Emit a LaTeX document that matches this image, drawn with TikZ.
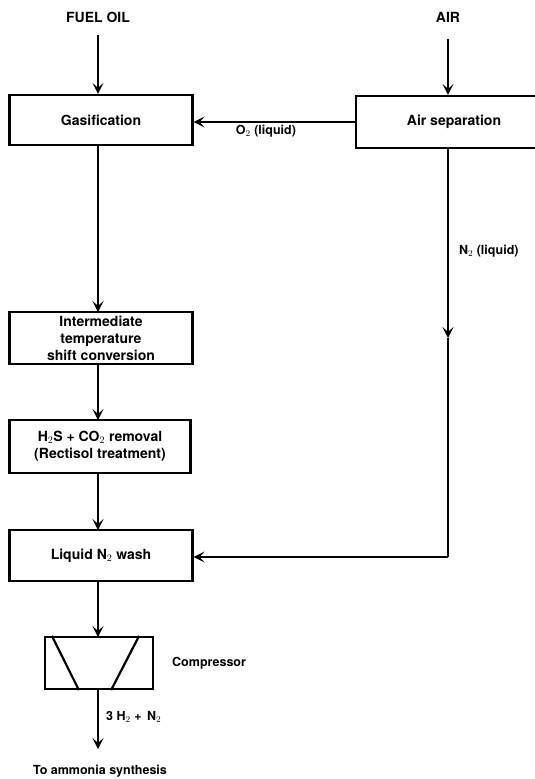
\documentclass[tikz,border=0pt]{standalone}
\usepackage{fontspec}
\setmainfont{TeX Gyre Heros}
\usetikzlibrary{arrows.meta,calc}
\begin{document}
\begin{tikzpicture}[x=1pt,y=-1pt,
  every node/.style={font=\bfseries\fontsize{14}{17}\selectfont, inner sep=0pt},
  unit/.style={draw, line width=2.2pt, rectangle, align=center, anchor=center},
  flow/.style={line width=2.2pt, -{Stealth[length=11pt,width=11pt,inset=5pt]}},
  pipe/.style={line width=2.2pt},
  lbl/.style={font=\bfseries\fontsize{12.5}{15}\selectfont}]
\useasboundingbox (0,0) rectangle (535,779);

% process units
\node[unit, minimum width=183pt, minimum height=50pt] (gas) at (101,120) {Gasification};
\node[unit, minimum width=196pt, minimum height=52pt] (airsep) at (454,122) {Air separation};
\node[unit, minimum width=183pt, minimum height=52pt] (shift) at (101,338)
  {Intermediate\\temperature\\shift conversion};
\node[unit, minimum width=181pt, minimum height=53pt] (rect) at (100,446.5)
  {H$_2$S + CO$_2$ removal\\(Rectisol treatment)};
\node[unit, minimum width=183pt, minimum height=51pt] (wash) at (101,555.5) {Liquid N$_2$ wash};

% compressor symbol
\node[unit, minimum width=108pt, minimum height=52pt] (comp) at (99,663) {};
\draw[pipe] ($(comp.north west)+(8,0)$) -- ($(comp.south west)+(35,0)$);
\draw[pipe] ($(comp.north east)+(-15,0)$) -- ($(comp.south east)+(-43,0)$);
\node[lbl, anchor=west] (complbl) at (172,663) {Compressor};

% feeds
\node (fuel) at (98,17) {FUEL OIL};
\node (air) at (448,17) {AIR};
\coordinate (fueltop) at (98,35);
\coordinate (airtop) at (448,39);
\draw[flow] (fueltop) -- (fueltop |- gas.north);
\draw[flow] (airtop) -- (airtop |- airsep.north);

% oxygen to gasifier
\draw[flow] (airsep.west |- 0,122) -- (gas.east |- 0,122);
\node[lbl] (o2) at (266,131) {O$_2$ (liquid)};

% nitrogen loop to wash
\coordinate (nmid) at (448,338);
\coordinate (ncorner) at (448,557);
\draw[flow] (airtop |- airsep.south) -- (nmid);
\draw[pipe] (nmid) -- (ncorner);
\draw[flow] (ncorner) -- (wash.east |- ncorner);
\node[lbl, anchor=west] (n2) at (459,251) {N$_2$ (liquid)};

% main train
\draw[flow] (98,145) -- (98,312);
\draw[flow] (98,364) -- (98,420);
\draw[flow] (98,473) -- (98,530);
\draw[flow] (98,581) -- (98,637);
\coordinate (out) at (98,749);
\draw[flow] (98,689) -- (out);
\node[lbl, anchor=west] (prod) at (106,717) {3 H$_2$ +\, N$_2$};
\node[lbl] (dest) at (100,771) {To ammonia synthesis};
\end{tikzpicture}
\end{document}
